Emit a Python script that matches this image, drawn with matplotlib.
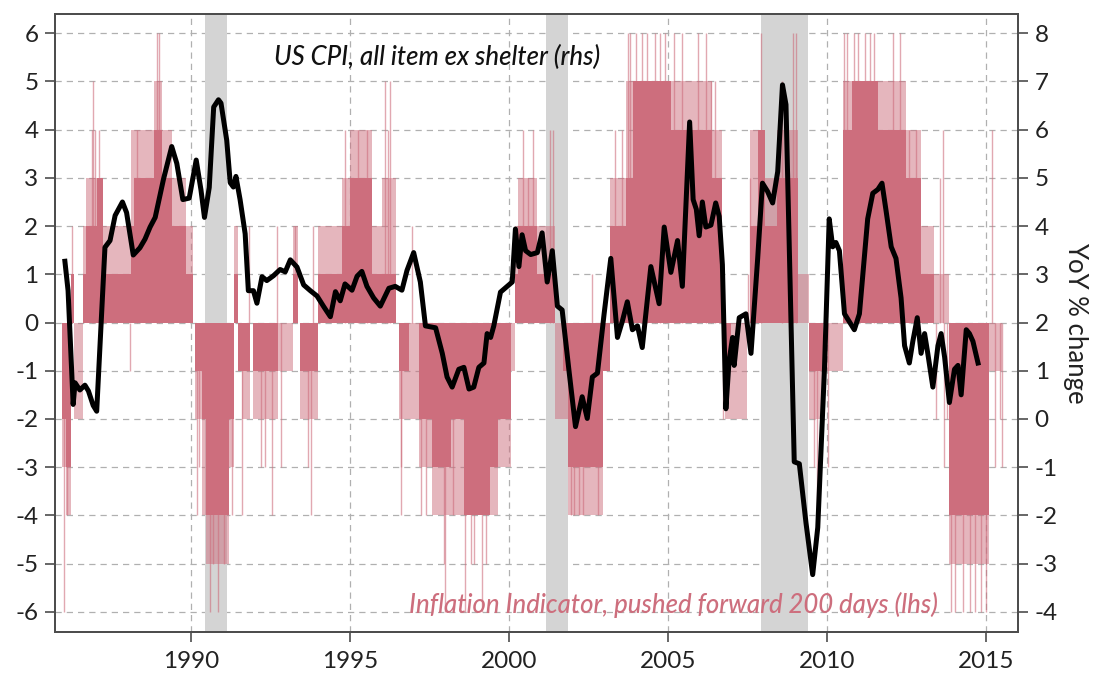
import matplotlib
matplotlib.use("Agg")
import matplotlib.pyplot as plt

plt.rcParams['font.family'] = ['Lato', 'DejaVu Sans']

# Inflation indicator (lhs), pushed forward 200 days: blocks of (start, end, typical level, outer level)
seg_start = [1985.96, 1986.06, 1986.24, 1986.32, 1986.62, 1986.70, 1987.05, 1987.25, 1988.12, 1988.22,
             1988.85, 1989.10, 1989.40, 1989.85, 1990.14, 1990.35, 1990.47, 1991.20, 1991.35, 1991.50,
             1991.62, 1991.95, 1992.75, 1993.20, 1993.44, 1994.00, 1994.75, 1995.00, 1995.70, 1996.00,
             1996.55, 1996.85, 1997.17, 1997.60, 1998.17, 1998.58, 1999.40, 1999.65, 2000.06, 2000.20,
             2000.30, 2000.90, 2001.45, 2001.70, 2001.85, 2002.95, 2003.20, 2003.70, 2003.90, 2005.10,
             2006.40, 2006.80, 2007.00, 2007.60, 2007.85, 2008.05, 2008.45, 2009.10, 2009.45, 2009.90,
             2010.50, 2010.80, 2011.60, 2012.50, 2012.97, 2013.38, 2013.84, 2015.10]
seg_end = [1986.06, 1986.24, 1986.32, 1986.62, 1986.70, 1987.05, 1987.25, 1988.12, 1988.22, 1988.85,
           1989.10, 1989.40, 1989.85, 1990.06, 1990.35, 1990.47, 1991.20, 1991.35, 1991.50, 1991.62,
           1991.85, 1992.75, 1993.20, 1993.38, 1994.00, 1994.75, 1995.00, 1995.70, 1996.00, 1996.45,
           1996.85, 1997.17, 1997.60, 1998.17, 1998.58, 1999.40, 1999.65, 2000.06, 2000.20, 2000.30,
           2000.90, 2001.45, 2001.70, 2001.85, 2002.95, 2003.20, 2003.70, 2003.90, 2005.10, 2006.40,
           2006.72, 2007.00, 2007.50, 2007.85, 2008.05, 2008.45, 2009.10, 2009.45, 2009.90, 2010.50,
           2010.80, 2011.60, 2012.50, 2012.97, 2013.38, 2013.84, 2015.10, 2015.52]
seg_core = [-2, -3, 1, 0, 1, 2, 3, 1, 2, 3,
            4, 3, 2, 1, -1, -2, -4, -2, 1, -1,
            -1, -1, 0, 1, -1, 1, 2, 3, 1, 1,
            -1, 0, -2, -3, -2, -4, -3, -2, 0, 1,
            2, 1, 0, -1, -3, -1, 2, 3, 5, 4,
            3, -1, 0, 2, 4, 2, 3, 0, -1, 0,
            4, 5, 4, 3, 1, 0, -4, 0]
seg_outer = [-3, -4, 1, -2, 2, 3, 3, 2, 4, 4,
             5, 4, 3, 2, -2, -4, -5, -3, 2, -1,
             -2, -2, -1, 2, -2, 2, 3, 4, 2, 3,
             -2, -2, -3, -4, -4, -4, -4, -3, -1, 2,
             3, 2, -2, -2, -4, -1, 3, 5, 5, 5,
             4, -2, -2, 4, 4, 3, 4, 1, -2, -1,
             5, 5, 5, 4, 2, 1, -5, -1]

# isolated readings that stick out of the blocks
spike_x = [1986.00, 1986.10, 1986.27, 1986.88, 1986.93, 1986.98, 1987.12, 1988.10, 1988.30, 1988.95,
           1989.00, 1990.20, 1990.25, 1990.60, 1990.70, 1990.85, 1991.05, 1991.30, 1991.60, 1991.82,
           1992.20, 1992.32, 1992.55, 1992.72, 1992.85, 1993.28, 1993.70, 1993.78, 1993.85, 1994.85,
           1995.25, 1995.55, 1996.12, 1996.20, 1996.28, 1996.60, 1996.62, 1996.95, 1997.25, 1997.40,
           1997.95, 1998.01, 1998.25, 1998.64, 1998.80, 1998.90, 1999.16, 1999.27, 2000.45, 2000.60,
           2000.75, 2001.30, 2001.40, 2001.95, 2002.05, 2002.20, 2002.35, 2002.62, 2002.80, 2003.35,
           2003.55, 2003.75, 2003.82, 2004.00, 2004.20, 2004.35, 2004.60, 2004.75, 2004.90, 2005.20,
           2005.45, 2005.95, 2006.20, 2006.35, 2006.50, 2006.75, 2007.52, 2007.58, 2007.95, 2008.60,
           2008.95, 2009.05, 2009.60, 2009.70, 2010.05, 2010.55, 2010.65, 2010.85, 2011.00, 2011.20,
           2011.35, 2011.50, 2012.10, 2012.30, 2012.60, 2012.80, 2013.45, 2013.55, 2013.65, 2013.70,
           2013.78, 2013.90, 2014.05, 2014.30, 2014.50, 2014.65, 2014.85, 2015.00, 2015.20, 2015.30,
           2015.45, 2015.50]
spike_val = [-6, -4, 2, 4, 5, 4, 4, -1, 4, 6,
             6, -4, -3, -6, -5, -6, -5, -4, -4, 2,
             -3, -3, -4, 2, -3, 2, -3, -4, 2, 4,
             4, 4, 5, 4, 5, -3, -4, 2, -4, -4,
             -5, -6, -4, -6, -5, -5, -6, -5, 4, 3,
             4, 4, 4, -4, -4, -4, -4, 1, -4, 4,
             4, 6, 6, 6, 6, 6, 6, 6, 6, 6,
             6, 6, 6, 5, 5, -2, 1, 3, 6, 5,
             6, 6, -3, -4, -3, 6, 6, 6, 6, 6,
             6, 6, 6, 6, 4, 4, -2, 3, 4, -3,
             -2, -6, -6, -6, -6, -6, -6, -6, 4, -3,
             -2, -3]

# US CPI all items ex shelter, YoY % (rhs)
cpi_x = [1986.04, 1986.14, 1986.30, 1986.36, 1986.51, 1986.67, 1986.78, 1986.93, 1987.04, 1987.30,
         1987.46, 1987.62, 1987.85, 1987.98, 1988.19, 1988.40, 1988.56, 1988.72, 1988.88, 1989.14,
         1989.40, 1989.56, 1989.75, 1989.95, 1990.17, 1990.32, 1990.43, 1990.58, 1990.72, 1990.87,
         1990.95, 1991.13, 1991.24, 1991.34, 1991.42, 1991.55, 1991.71, 1991.81, 1991.97, 1992.08,
         1992.24, 1992.39, 1992.60, 1992.81, 1992.97, 1993.13, 1993.34, 1993.55, 1993.76, 1993.97,
         1994.18, 1994.39, 1994.55, 1994.70, 1994.85, 1995.07, 1995.23, 1995.38, 1995.54, 1995.75,
         1995.96, 1996.23, 1996.43, 1996.64, 1996.80, 1997.01, 1997.22, 1997.38, 1997.70, 1997.91,
         1998.06, 1998.22, 1998.43, 1998.59, 1998.75, 1998.90, 1999.06, 1999.22, 1999.32, 1999.43,
         1999.53, 1999.74, 1999.95, 2000.11, 2000.21, 2000.32, 2000.42, 2000.53, 2000.69, 2000.90,
         2001.05, 2001.21, 2001.37, 2001.53, 2001.68, 2001.89, 2002.10, 2002.31, 2002.47, 2002.63,
         2002.79, 2003.00, 2003.21, 2003.42, 2003.57, 2003.73, 2003.89, 2004.05, 2004.20, 2004.47,
         2004.73, 2004.89, 2005.10, 2005.31, 2005.46, 2005.69, 2005.80, 2005.90, 2005.99, 2006.09,
         2006.20, 2006.36, 2006.51, 2006.62, 2006.72, 2006.83, 2006.93, 2007.04, 2007.09, 2007.25,
         2007.46, 2007.62, 2007.83, 2007.98, 2008.14, 2008.30, 2008.46, 2008.61, 2008.72, 2008.88,
         2008.98, 2009.14, 2009.35, 2009.56, 2009.72, 2009.93, 2010.08, 2010.19, 2010.29, 2010.40,
         2010.56, 2010.71, 2010.87, 2011.03, 2011.29, 2011.45, 2011.61, 2011.74, 2011.87, 2012.03,
         2012.18, 2012.34, 2012.45, 2012.60, 2012.71, 2012.85, 2012.97, 2013.08, 2013.18, 2013.34,
         2013.50, 2013.60, 2013.71, 2013.86, 2014.02, 2014.13, 2014.23, 2014.39, 2014.49, 2014.60,
         2014.76]
cpi_yoy = [3.27, 2.66, 0.30, 0.75, 0.60, 0.70, 0.58, 0.28, 0.16, 3.56,
           3.70, 4.22, 4.50, 4.28, 3.40, 3.55, 3.73, 3.98, 4.18, 4.97,
           5.65, 5.30, 4.55, 4.58, 5.37, 4.75, 4.18, 4.80, 6.47, 6.62,
           6.55, 5.78, 4.90, 4.81, 5.03, 4.55, 3.84, 2.66, 2.66, 2.40,
           2.95, 2.87, 2.97, 3.10, 3.05, 3.30, 3.15, 2.78, 2.66, 2.55,
           2.33, 2.12, 2.64, 2.45, 2.80, 2.67, 2.96, 3.06, 2.75, 2.51,
           2.34, 2.71, 2.75, 2.67, 3.08, 3.45, 2.84, 1.93, 1.89, 1.36,
           0.87, 0.66, 1.03, 1.07, 0.62, 0.66, 1.07, 1.16, 1.77, 1.69,
           1.93, 2.63, 2.75, 2.84, 3.94, 3.16, 3.82, 3.49, 3.41, 3.45,
           3.86, 2.84, 3.49, 2.34, 2.26, 1.03, -0.16, 0.46, 0.01, 0.87,
           0.95, 2.18, 3.33, 1.69, 2.02, 2.43, 1.85, 1.93, 1.48, 3.16,
           2.39, 3.98, 3.04, 3.70, 2.75, 6.16, 4.55, 4.35, 3.80, 4.50,
           3.98, 4.02, 4.48, 4.20, 3.20, 0.21, 1.20, 1.69, 1.11, 2.10,
           2.18, 1.36, 3.33, 4.89, 4.72, 4.48, 5.13, 6.93, 6.52, 2.02,
           -0.89, -0.93, -2.16, -3.23, -2.25, 1.03, 4.15, 3.57, 3.66, 3.49,
           2.18, 2.02, 1.85, 2.18, 4.15, 4.68, 4.76, 4.89, 4.31, 3.57,
           3.33, 2.51, 1.52, 1.16, 1.61, 2.10, 1.36, 1.77, 1.36, 0.66,
           1.52, 1.77, 1.28, 0.34, 1.03, 1.11, 0.50, 1.85, 1.77, 1.61,
           1.16]

recession_start = [1990.45, 2001.17, 2007.93]
recession_end = [1991.15, 2001.85, 2009.42]

years = [1990, 1995, 2000, 2005, 2010, 2015]
lhs_ticks = list(range(-6, 7))
rhs_ticks = list(range(-4, 9))

pink = '#cd6e7d'
frame = '#4d4d4d'

fig = plt.figure(figsize=(11.03, 6.75), dpi=100)
ax = fig.add_axes([0.0499, 0.0637, 0.8731, 0.9156])

ylo, yhi = -6.42, 6.40
ax.set_xlim(1985.73, 2016.02)
ax.set_ylim(ylo, yhi)

for s, e in zip(recession_start, recession_end):
    ax.axvspan(s, e, color='#d4d4d4', lw=0, zorder=1)

widths = [e - s for s, e in zip(seg_start, seg_end)]
ax.bar(seg_start, seg_outer, width=widths, align='edge', color=pink, alpha=0.5, lw=0, zorder=2)
ax.bar(seg_start, seg_core, width=widths, align='edge', color=pink, lw=0, zorder=3)
ax.vlines(spike_x, 0, spike_val, color=pink, alpha=0.6, lw=1.0, zorder=3)

ax.set_xticks(years)
ax.set_yticks(lhs_ticks)
ax.set_yticklabels([str(v) for v in lhs_ticks])
ax.grid(True, color='#b0b0b0', lw=0.9, ls=(0, (5, 4)), zorder=0)
ax.set_axisbelow(True)

ax2 = ax.twinx()
ax2.set_ylim(ylo + 2, yhi + 2)
ax2.plot(cpi_x, cpi_yoy, color='black', lw=3.6, solid_joinstyle='round', zorder=5)
ax2.set_yticks(rhs_ticks)
ax2.set_yticklabels([str(v) for v in rhs_ticks])
ax2.set_ylabel('YoY % change', rotation=-90, fontsize=18.5, labelpad=22, color='#222222')

for a in (ax, ax2):
    for sp in a.spines.values():
        sp.set_color(frame)
        sp.set_linewidth(1.4)
    a.tick_params(direction='out', length=7, width=1.2, color=frame, labelsize=17.5,
                  labelcolor='#222222', pad=5)
ax.tick_params(axis='x', pad=7)

ax.text(0.397, 0.930, 'US CPI, all item ex shelter (rhs)', transform=ax.transAxes,
        ha='center', va='center', fontsize=18.5, style='italic', weight='medium', color='#111111')
ax.text(0.917, 0.044, 'Inflation Indicator, pushed forward 200 days (lhs)', transform=ax.transAxes,
        ha='right', va='center', fontsize=18.5, style='italic', weight='medium', color=pink)

fig.savefig('out.png', dpi=100)
